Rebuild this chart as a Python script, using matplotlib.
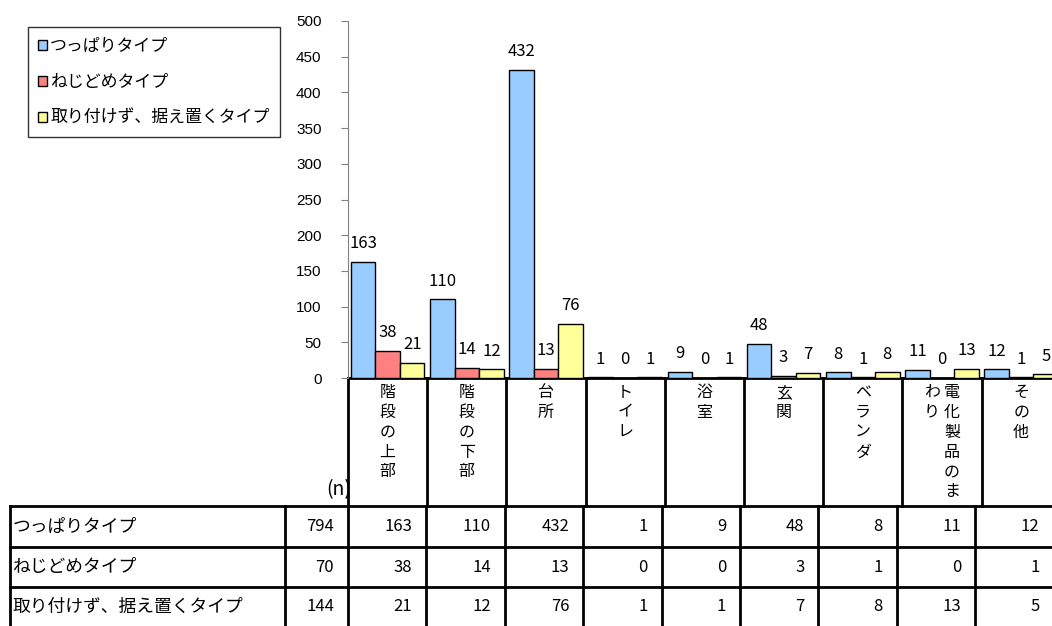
import numpy as np
import matplotlib
matplotlib.use("Agg")
import matplotlib.pyplot as plt
from matplotlib.patches import Patch

plt.rcParams['font.family'] = ['Noto Sans CJK JP', 'DejaVu Sans']

# データ
categories = ["階段の上部", "階段の下部", "台所", "トイレ", "浴室", "玄関", "ベランダ", "電化製品のまわり", "その他"]
series_names = ["つっぱりタイプ", "ねじどめタイプ", "取り付けず、据え置くタイプ"]
tsuppari = [163, 110, 432, 1, 9, 48, 8, 11, 12]
nejidome = [38, 14, 13, 0, 0, 3, 1, 0, 1]
sueoki = [21, 12, 76, 1, 1, 7, 8, 13, 5]
totals = [794, 70, 144]
colors = ["#99CCFF", "#FF8080", "#FFFF99"]

W, H = 1052, 626
fig = plt.figure(figsize=(W / 100, H / 100), dpi=100)

# 表と枠線（ピクセル座標）
tab = fig.add_axes([0, 0, 1, 1])
tab.set_xlim(0, W)
tab.set_ylim(H, 0)
tab.axis('off')

x0 = 348          # グラフ左端
y0 = 378          # 0 の位置
y500 = 21
cw_top = 79.2     # 上側の項目幅
cw_tab = 78.4     # 表の列幅
row_y = [506, 547, 587, 626]
lw = 2
num_size = 12

# 項目名の枠
tab.plot([x0, W], [y0, y0], color='black', lw=lw)
for i in range(len(categories) + 1):
    x = x0 + cw_top * i
    if x <= W:
        tab.plot([x, x], [y0, row_y[0]], color='black', lw=lw)

# 項目名（縦書き）
for i, name in enumerate(categories):
    cx = x0 + cw_top * (i + 0.5)
    if len(name) > 6:
        tab.text(cx + 2, 384, "\n".join(name[:6]), ha='left', va='top', fontsize=11.5, linespacing=1.22)
        tab.text(cx - 18, 384, "\n".join(name[6:]), ha='left', va='top', fontsize=11.5, linespacing=1.22)
    else:
        tab.text(cx, 384, "\n".join(name), ha='center', va='top', fontsize=11.5, linespacing=1.22)

tab.text(339, 490, "(n)", ha='center', va='center', fontsize=14)

# 表
col_edges = [10, 285] + [x0 + cw_tab * i for i in range(len(categories) + 1)]
for y in row_y[:-1]:
    tab.plot([10, W], [y, y], color='black', lw=lw)
for x in col_edges:
    if x <= W:
        tab.plot([x, x], [row_y[0], row_y[-1]], color='black', lw=lw)

for r, (name, vals) in enumerate(zip(series_names, [tsuppari, nejidome, sueoki])):
    yc = (row_y[r] + row_y[r + 1]) / 2
    tab.text(13, yc, name, ha='left', va='center', fontsize=12.8)
    tab.text(col_edges[2] - 14, yc, str(totals[r]), ha='right', va='center', fontsize=num_size)
    for i, v in enumerate(vals):
        xr = x0 + cw_tab * (i + 1) - 14
        if xr > W:
            xr = W - 2
        tab.text(xr, yc, str(v), ha='right', va='center', fontsize=num_size)

# 棒グラフ
ax = fig.add_axes([x0 / W, (H - y0) / H, (W - x0) / W, (y0 - y500) / H])
ax.patch.set_alpha(0)
x = np.arange(len(categories)) + 0.5
bw = 0.31
for k, (vals, c) in enumerate(zip([tsuppari, nejidome, sueoki], colors)):
    bars = ax.bar(x + (k - 1) * bw, vals, bw, color=c, edgecolor='black', linewidth=1, zorder=3)
    ax.bar_label(bars, padding=7, fontsize=num_size)

ax.set_xlim(0, (W - x0) / cw_top)
ax.set_ylim(0, 500)
ax.set_yticks(np.arange(0, 501, 50))
ax.set_xticks([])
for s in ['top', 'right', 'bottom']:
    ax.spines[s].set_visible(False)
ax.spines['left'].set_color('#808080')
ax.tick_params(axis='y', direction='out', length=5, color='#808080', labelsize=11, pad=14)
for t in ax.get_yticklabels():
    t.set_fontfamily(['Liberation Sans', 'DejaVu Sans'])

# 凡例
handles = [Patch(facecolor=c, edgecolor='black', linewidth=1) for c in colors]
leg = fig.legend(handles, series_names, loc='upper left', bbox_to_anchor=(28 / W, 1 - 27 / H),
                 frameon=True, fancybox=False, edgecolor='black', fontsize=12.2,
                 handlelength=0.5, handleheight=0.5, handletextpad=0.2, labelspacing=1.05,
                 borderpad=0.6, borderaxespad=0)
leg.get_frame().set_linewidth(1)

fig.savefig("out.png", dpi=100)
